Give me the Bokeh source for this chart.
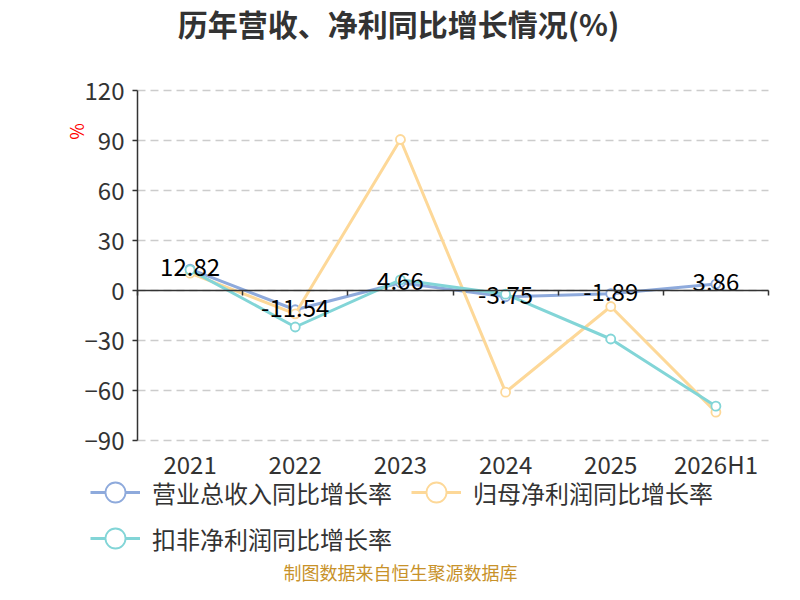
import numpy as np
from bokeh.plotting import figure
from bokeh.models import (Range1d, LinearAxis, FixedTicker, Label, Legend, LegendItem,
                          ColumnDataSource)
from bokeh.core.properties import value
from bokeh.embed import file_html
from bokeh.resources import INLINE

categories = ["2021", "2022", "2023", "2024", "2025", "2026H1"]
revenue_growth = [12.82, -11.54, 4.66, -3.75, -1.89, 3.86]
netprofit_growth = [10.4, -14.0, 90.6, -61.0, -9.6, -73.0]
deducted_growth = [12.4, -21.9, 6.4, -2.2, -29.1, -69.4]
series_names = ["营业总收入同比增长率", "归母净利润同比增长率", "扣非净利润同比增长率"]
y_ticks = [-90, -60, -30, 0, 30, 60, 90, 120]

colors = ["#8eaadc", "#fdd898", "#82d5d7"]
FONT = "Noto Sans CJK SC"

# page layout (pixels): the whole canvas is the frame, the data area sits inside it
W, H = 784, 584
PL, PR, PT, PB = 137, 768, 90, 440          # data area edges on the canvas
n = len(categories)
y_lo, y_hi = y_ticks[0], y_ticks[-1]
xpx = (PR - PL) / n
ypx = (PB - PT) / (y_hi - y_lo)
x_range = Range1d(-0.5 - PL / xpx, n - 0.5 + (W - PR) / xpx)
y_range = Range1d(y_lo - (H - PB) / ypx, y_hi + PT / ypx)

xs = list(range(n))

p = figure(width=W, height=H, output_backend="svg", toolbar_location=None,
           x_range=x_range, y_range=y_range,
           x_axis_location=None, y_axis_location=None)
p.min_border = 0
p.outline_line_color = None
p.background_fill_color = "white"
p.xgrid.visible = False
p.ygrid.visible = False

# horizontal dashed grid lines, limited to the data area
p.segment(x0=[-0.5] * len(y_ticks), x1=[n - 0.5] * len(y_ticks), y0=y_ticks, y1=y_ticks,
          line_color="#cccccc", line_width=1.5, line_dash="8 5")

# y axis at the left edge of the data area
yaxis = LinearAxis(ticker=FixedTicker(ticks=y_ticks), fixed_location=-0.5, bounds=(y_lo, y_hi))
yaxis.axis_line_color = "#333333"
yaxis.axis_line_width = 1.5
yaxis.major_tick_line_color = "#333333"
yaxis.major_tick_line_width = 1.5
yaxis.major_tick_in = 0
yaxis.major_tick_out = 5
yaxis.minor_tick_line_color = None
yaxis.major_label_text_font = FONT
yaxis.major_label_text_font_size = "24px"
yaxis.major_label_text_color = "#333333"
yaxis.major_label_standoff = 8
p.add_layout(yaxis, "left")

# zero axis line with boundary ticks (drawn at y = 0)
bounds = [i - 0.5 for i in range(n + 1)]
zaxis = LinearAxis(ticker=FixedTicker(ticks=bounds), fixed_location=0, bounds=(-0.5, n - 0.5))
zaxis.axis_line_color = "#333333"
zaxis.axis_line_width = 1.5
zaxis.major_tick_line_color = "#333333"
zaxis.major_tick_line_width = 1.5
zaxis.major_tick_in = 0
zaxis.major_tick_out = 5
zaxis.minor_tick_line_color = None
zaxis.major_label_text_alpha = 0
zaxis.major_label_text_font_size = "1px"
p.add_layout(zaxis, "below")

# category labels under the data area
xaxis = LinearAxis(ticker=FixedTicker(ticks=xs), fixed_location=y_lo, bounds=(-0.5, n - 0.5),
                   major_label_overrides={i: c for i, c in zip(xs, categories)})
xaxis.axis_line_color = None
xaxis.major_tick_line_color = None
xaxis.major_tick_in = 0
xaxis.major_tick_out = 0
xaxis.minor_tick_line_color = None
xaxis.major_label_text_font = FONT
xaxis.major_label_text_font_size = "24px"
xaxis.major_label_text_color = "#333333"
xaxis.major_label_standoff = 5
p.add_layout(xaxis, "below")

items = []
for name, vals, col in zip(series_names, [revenue_growth, netprofit_growth, deducted_growth], colors):
    src = ColumnDataSource(dict(x=xs, y=vals))
    ln = p.line("x", "y", source=src, line_color=col, line_width=3)
    sc = p.scatter("x", "y", source=src, marker="circle", size=9, fill_color="white",
                   line_color=col, line_width=1.8)
    items.append(LegendItem(label=name, renderers=[ln, sc]))

lab_src = ColumnDataSource(dict(x=xs, y=revenue_growth, t=[f"{v:.2f}" for v in revenue_growth]))
p.text("x", "y", text="t", source=lab_src, text_align="center", text_baseline="middle",
       text_font=value(FONT), text_font_size="24px", text_color="#000000", y_offset=-2)

legend_style = dict(orientation="horizontal", glyph_width=50, glyph_height=60, label_height=60,
                    spacing=19, label_standoff=12, padding=0, margin=0,
                    border_line_color=None, background_fill_alpha=0,
                    label_text_font=FONT, label_text_font_size="24px",
                    label_text_color="#333333")
legend1 = Legend(items=items[:2], location=(90, H - 522), **legend_style)
legend2 = Legend(items=items[2:], location=(90, H - 568), **legend_style)
p.add_layout(legend1, "center")
p.add_layout(legend2, "center")

title = Label(x=398, y=H - 22, x_units="screen", y_units="screen", text="历年营收、净利同比增长情况(%)",
              text_font=FONT, text_font_size="30px", text_font_style="bold",
              text_color="#333333", text_align="center", text_baseline="middle")
p.add_layout(title)

ylabel = Label(x=75, y=H - 131, x_units="screen", y_units="screen", text="%", angle=np.pi / 2,
               text_font=FONT, text_font_size="18px", text_color="#ff0000",
               text_align="center", text_baseline="middle")
p.add_layout(ylabel)

footer = Label(x=400, y=H - 571, x_units="screen", y_units="screen", text="制图数据来自恒生聚源数据库",
               text_font=FONT, text_font_size="18px", text_color="#c8922a",
               text_align="center", text_baseline="middle")
p.add_layout(footer)

open("out.html", "w").write(file_html(p, INLINE))
